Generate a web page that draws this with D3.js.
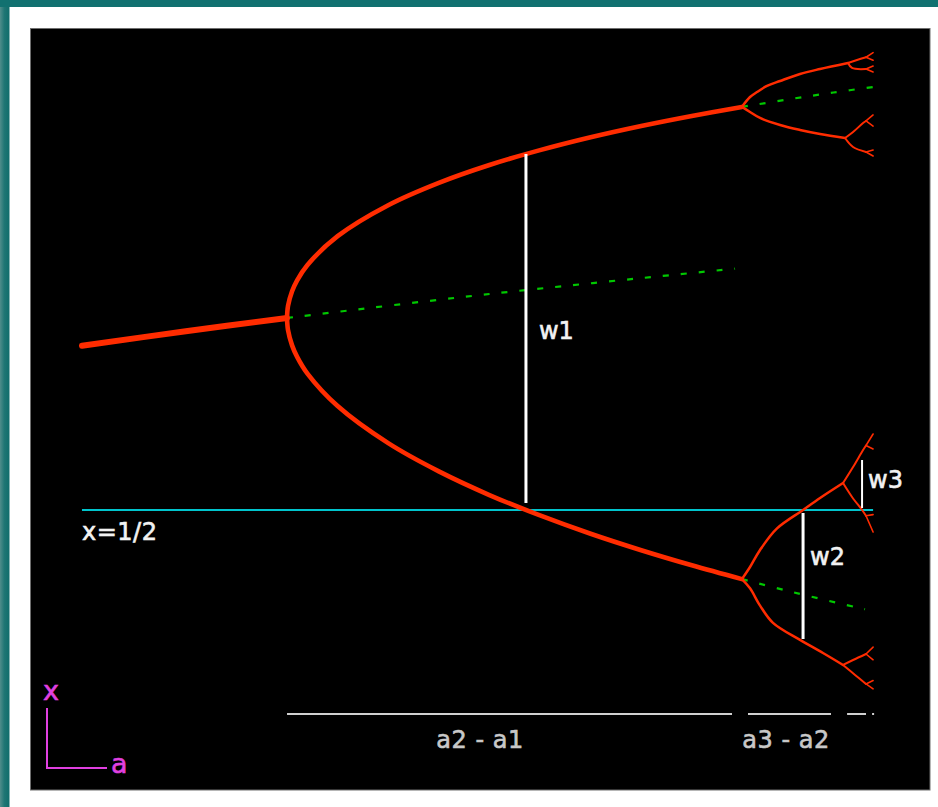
<!DOCTYPE html>
<html>
<head>
<meta charset="utf-8">
<script src="https://cdn.jsdelivr.net/npm/d3@7"></script>
<style>
  html, body { margin: 0; padding: 0; background: #117170; }
  svg { display: block; }
  text { font-family: "DejaVu Sans", sans-serif; }
</style>
</head>
<body>
<svg id="chart" width="938" height="807"></svg>
<script>
// Logistic map x -> a·x·(1-x): attracting branches (x against a) near the
// period-doubling cascade, with the unstable continuations and the widths w_n.

// period-1 fixed point, a < a1
const period1 = [[2.7974, 0.6425], [2.9, 0.6552], [3.0, 0.6667]];

// period-2 branches, a1 < a < a2
const period2Upper = [[3.0, 0.6667], [3.001, 0.6772], [3.005, 0.6899], [3.01, 0.6994], [3.02, 0.7125],
  [3.05, 0.7377], [3.1, 0.7646], [3.15, 0.7840], [3.2, 0.7995], [3.25, 0.8124], [3.3, 0.8236],
  [3.35, 0.8334], [3.4, 0.8421], [3.4495, 0.8499]];
const period2Lower = [[3.0, 0.6667], [3.001, 0.6561], [3.005, 0.6429], [3.01, 0.6329], [3.02, 0.6186],
  [3.05, 0.5902], [3.1, 0.5580], [3.15, 0.5335], [3.2, 0.5130], [3.25, 0.4953], [3.3, 0.4794],
  [3.35, 0.4651], [3.4, 0.4520], [3.4495, 0.4400]];

// period-4 branches, a2 < a < a3
const period4 = [
  [[3.4495, 0.8499], [3.4575, 0.8585], [3.4644, 0.8628], [3.4743, 0.8681], [3.4872, 0.8724], [3.5069, 0.8785], [3.5267, 0.8828], [3.5543, 0.8880]],
  [[3.4495, 0.8499], [3.4575, 0.8455], [3.4674, 0.8403], [3.4872, 0.8342], [3.5069, 0.8299], [3.5267, 0.8264], [3.5514, 0.8229]],
  [[3.4495, 0.4400], [3.4575, 0.4505], [3.4674, 0.4653], [3.4842, 0.4840], [3.5099, 0.5000], [3.5267, 0.5104], [3.5494, 0.5234]],
  [[3.4495, 0.4400], [3.4575, 0.4320], [3.4674, 0.4170], [3.4802, 0.4020], [3.5069, 0.3872], [3.5296, 0.3759], [3.5494, 0.3655]]
];

// period-8 branches, a3 < a < a4
const period8 = [
  [[3.5543, 0.8880], [3.5632, 0.8906], [3.5721, 0.8930]],
  [[3.5543, 0.8880], [3.5583, 0.8837], [3.5721, 0.8828]],
  [[3.5514, 0.8229], [3.5593, 0.8281], [3.5692, 0.8359], [3.5721, 0.8377]],
  [[3.5514, 0.8229], [3.5593, 0.8151], [3.5721, 0.8108]],
  [[3.5494, 0.5234], [3.5593, 0.5373], [3.5692, 0.5521], [3.5721, 0.5560]],
  [[3.5494, 0.5234], [3.5583, 0.5113], [3.5682, 0.5000], [3.5721, 0.4950]],
  [[3.5494, 0.3655], [3.5593, 0.3698], [3.5721, 0.3750]],
  [[3.5494, 0.3655], [3.5613, 0.3568], [3.5721, 0.3490]]
];

// period-16 forks at the right edge
const period16 = [
  [[3.5721, 0.8930], [3.5791, 0.8970]], [[3.5721, 0.8930], [3.5791, 0.8905]],
  [[3.5721, 0.8828], [3.5791, 0.8854]], [[3.5721, 0.8828], [3.5791, 0.8802]],
  [[3.5721, 0.8377], [3.5791, 0.8429]], [[3.5721, 0.8377], [3.5791, 0.8333]],
  [[3.5721, 0.8108], [3.5791, 0.8125]], [[3.5721, 0.8108], [3.5791, 0.8073]],
  [[3.5721, 0.5560], [3.5791, 0.5660]], [[3.5721, 0.5560], [3.5791, 0.5530]],
  [[3.5721, 0.4950], [3.5791, 0.4960]], [[3.5721, 0.4950], [3.5791, 0.4809]],
  [[3.5721, 0.3750], [3.5791, 0.3810]], [[3.5721, 0.3750], [3.5791, 0.3700]],
  [[3.5721, 0.3490], [3.5791, 0.3520]], [[3.5721, 0.3490], [3.5791, 0.3447]]
];

// unstable continuations (dashed)
const unstable = [
  [[3.0, 0.6667], [3.2, 0.6875], [3.4427, 0.7095]],
  [[3.4495, 0.8499], [3.5, 0.8571], [3.54, 0.8624], [3.5791, 0.8672]],
  [[3.4495, 0.4400], [3.5, 0.4286], [3.5711, 0.4138]]
];

// x = 1/2 reference line
const halfX = 0.5;
const halfRange = [2.7974, 3.5791];

// widths w_n at the superstable parameters
const wNames = ["w1", "w2", "w3"];
const wA = [3.2361, 3.5099, 3.5682];
const wFrom = [0.5061, 0.4974, 0.5017];
const wTo = [0.8090, 0.3880, 0.5434];

// parameter intervals between bifurcations
const intervalNames = ["a2 - a1", "a3 - a2", "", ""];
const intervals = [[3.0, 3.4397], [3.4555, 3.5375], [3.5534, 3.5721], [3.5781, 3.5801]];

// ---- drawing ----
const svg = d3.select("#chart");
const W = 938, H = 807;

const sx = d3.scaleLinear().domain([2.75, 3.58]).range([34, 874]);
const sy = d3.scaleLinear().domain([0.3, 0.9]).range([740.4, 49.2]);

// frame: shaded left edge, white panel, black plot area
const defs = svg.append("defs");
const g = defs.append("linearGradient").attr("id", "edge").attr("x1", 0).attr("x2", 1);
g.append("stop").attr("offset", 0).attr("stop-color", "#4f8d8b");
g.append("stop").attr("offset", 0.45).attr("stop-color", "#1f7674");
g.append("stop").attr("offset", 1).attr("stop-color", "#0f6d6b");
svg.append("rect").attr("x", 0).attr("y", 0).attr("width", W).attr("height", H).attr("fill", "#117170");
svg.append("rect").attr("x", 0).attr("y", 7).attr("width", 9.5).attr("height", H - 7).attr("fill", "url(#edge)");
svg.append("rect").attr("x", 9.5).attr("y", 7).attr("width", W - 9.5).attr("height", H - 7).attr("fill", "#ffffff");
svg.append("rect").attr("x", 30.5).attr("y", 28.5).attr("width", 899.5).attr("height", 761.5)
  .attr("fill", "#000000").attr("stroke", "#6e6e6e").attr("stroke-width", 1);

const line = d3.line().x(d => sx(d[0])).y(d => sy(d[1])).curve(d3.curveCatmullRom.alpha(0.5));
const RED = "#ff2c00";

// x = 1/2
svg.append("line")
  .attr("x1", sx(halfRange[0])).attr("x2", sx(halfRange[1]))
  .attr("y1", sy(halfX)).attr("y2", sy(halfX))
  .attr("stroke", "#00c4cc").attr("stroke-width", 2);

// unstable branches
svg.append("g").selectAll("path").data(unstable).join("path")
  .attr("d", line).attr("fill", "none")
  .attr("stroke", "#00c800").attr("stroke-width", 2.2).attr("stroke-dasharray", "6 12");

// attracting branches
const branchSets = [
  { data: [period1], width: 6 },
  { data: [period2Upper, period2Lower], width: 4.6 },
  { data: period4, width: 2.5 },
  { data: period8, width: 2 },
  { data: period16, width: 1.6 }
];
branchSets.forEach(set => {
  svg.append("g").selectAll("path").data(set.data).join("path")
    .attr("d", line).attr("fill", "none")
    .attr("stroke", RED).attr("stroke-width", set.width)
    .attr("stroke-linecap", "round").attr("stroke-linejoin", "round");
});

// label text with slightly heavier strokes
function label(x, y, str, color, size) {
  return svg.append("text").attr("x", x).attr("y", y)
    .attr("fill", color).attr("stroke", color).attr("stroke-width", 0.6)
    .attr("font-size", size).text(str);
}

// widths w_n
const wStroke = [3, 3, 2];
const wLabelDx = [13, 7, 6];
const wLabelDy = [10, -11, 4];
wNames.forEach((name, i) => {
  const x = sx(wA[i]);
  const y1 = sy(wFrom[i]), y2 = sy(wTo[i]);
  svg.append("line").attr("x1", x).attr("x2", x).attr("y1", y1).attr("y2", y2)
    .attr("stroke", "#ffffff").attr("stroke-width", wStroke[i]);
  label(x + wLabelDx[i], (y1 + y2) / 2 + wLabelDy[i], name, "#f2f2f2", 24);
});

label(sx(halfRange[0]), sy(halfX) + 30, "x=1/2", "#f2f2f2", 24).attr("letter-spacing", 0.5);

// bifurcation intervals along a
const bandY = 714;
const intervalLabelX = [480, 786];
svg.append("g").selectAll("line").data(intervals).join("line")
  .attr("x1", d => sx(d[0])).attr("x2", d => sx(d[1]))
  .attr("y1", bandY).attr("y2", bandY)
  .attr("stroke", "#cfcfcf").attr("stroke-width", 2);
intervalNames.forEach((name, i) => {
  if (!name) return;
  label(intervalLabelX[i], bandY + 34, name, "#c8c8c8", 24)
    .attr("text-anchor", "middle").attr("letter-spacing", 0.5);
});

// axis key
const MAG = "#e040e0";
svg.append("path").attr("d", "M47,708V768H107").attr("fill", "none")
  .attr("stroke", MAG).attr("stroke-width", 2);
label(51, 700, "x", MAG, 27).attr("text-anchor", "middle");
label(111, 773, "a", MAG, 27);
</script>
</body>
</html>
